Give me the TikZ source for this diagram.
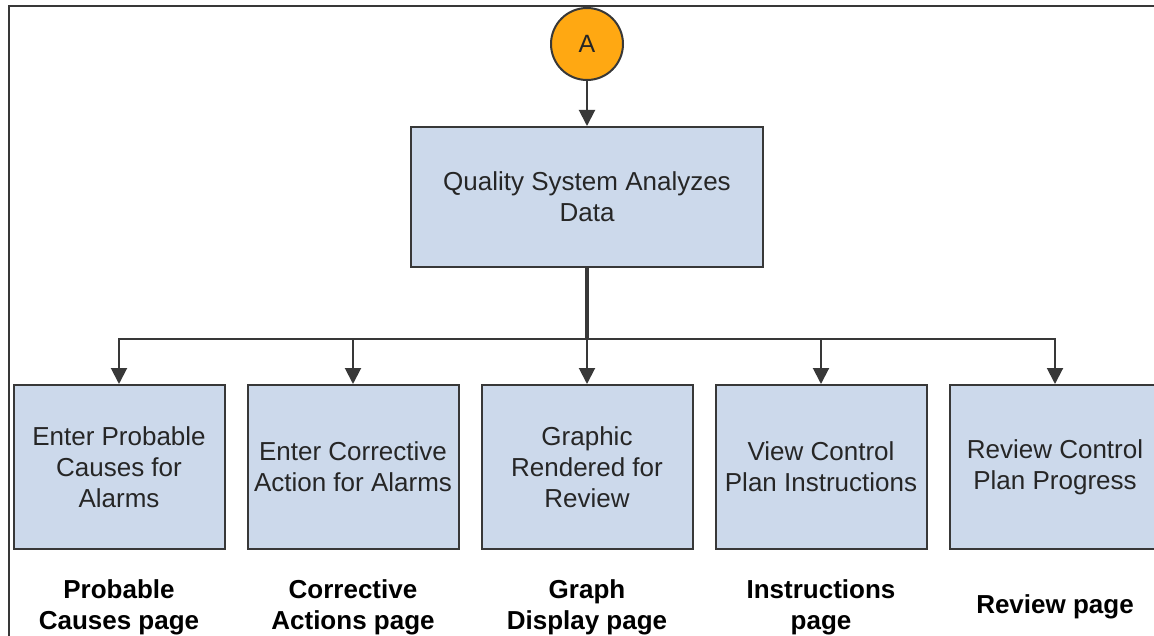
\documentclass[tikz,border=0pt]{standalone}
\usepackage{fontspec}
\setmainfont{Liberation Sans}
\usetikzlibrary{arrows.meta,positioning}
\definecolor{boxblue}{HTML}{CCD9EB}
\definecolor{startorange}{HTML}{FFA812}
\definecolor{linegray}{HTML}{383838}
\tikzset{
	flowbox/.style={draw=linegray, line width=2pt, fill=boxblue, align=center, text=black!85,
		font=\fontsize{26}{31}\selectfont},
	startcirc/.style={circle, draw=linegray, line width=2pt, fill=startorange, minimum size=72pt,
		inner sep=0pt, text=black!85, font=\fontsize{25}{28}\selectfont},
	pagelabel/.style={align=center, font=\bfseries\fontsize{26}{31}\selectfont},
	connector/.style={draw=linegray, line width=2pt, -{Triangle[width=16pt,length=16pt]}}
}
\begin{document}
\begin{tikzpicture}[x=1pt, y=1pt,
	edge from parent/.style={connector},
	level 1/.style={level distance=153pt},
	level 2/.style={level distance=270pt, sibling distance=234pt,
		edge from parent path={(\tikzparentnode.south) -- ++(0,-71) -| (\tikzchildnode.north)}}]
	\useasboundingbox (0,0) rectangle (1154,-636);
	\draw[linegray, line width=2pt] (1154,-6) -| (9,-636);
	\node[startcirc](A) at (587,-44) {A}
	child{
		node[flowbox, minimum width=352pt, minimum height=140pt](analyze){Quality System Analyzes\\Data}
		child{node[flowbox, minimum width=211pt, minimum height=164pt](causes){Enter Probable\\Causes for\\Alarms}}
		child{node[flowbox, minimum width=211pt, minimum height=164pt](actions){Enter Corrective\\Action for Alarms}}
		child{node[flowbox, minimum width=211pt, minimum height=164pt](graph){Graphic\\Rendered for\\Review}}
		child{node[flowbox, minimum width=211pt, minimum height=164pt](instr){View Control\\Plan Instructions}}
		child{node[flowbox, minimum width=211pt, minimum height=164pt](review){Review Control\\Plan Progress}}
	};
	\coordinate (split) at ([yshift=-71pt]analyze.south);
	\draw[linegray, line width=3.5pt] (analyze.south) -- (split);
	\node[pagelabel, yshift=-57pt](causespg) at (causes.south) {Probable\\Causes page};
	\node[pagelabel, yshift=-57pt](actionspg) at (actions.south) {Corrective\\Actions page};
	\node[pagelabel, yshift=-57pt](graphpg) at (graph.south) {Graph\\Display page};
	\node[pagelabel, yshift=-57pt](instrpg) at (instr.south) {Instructions\\page};
	\node[pagelabel, yshift=-57pt](reviewpg) at (review.south) {Review page};
\end{tikzpicture}
\end{document}
